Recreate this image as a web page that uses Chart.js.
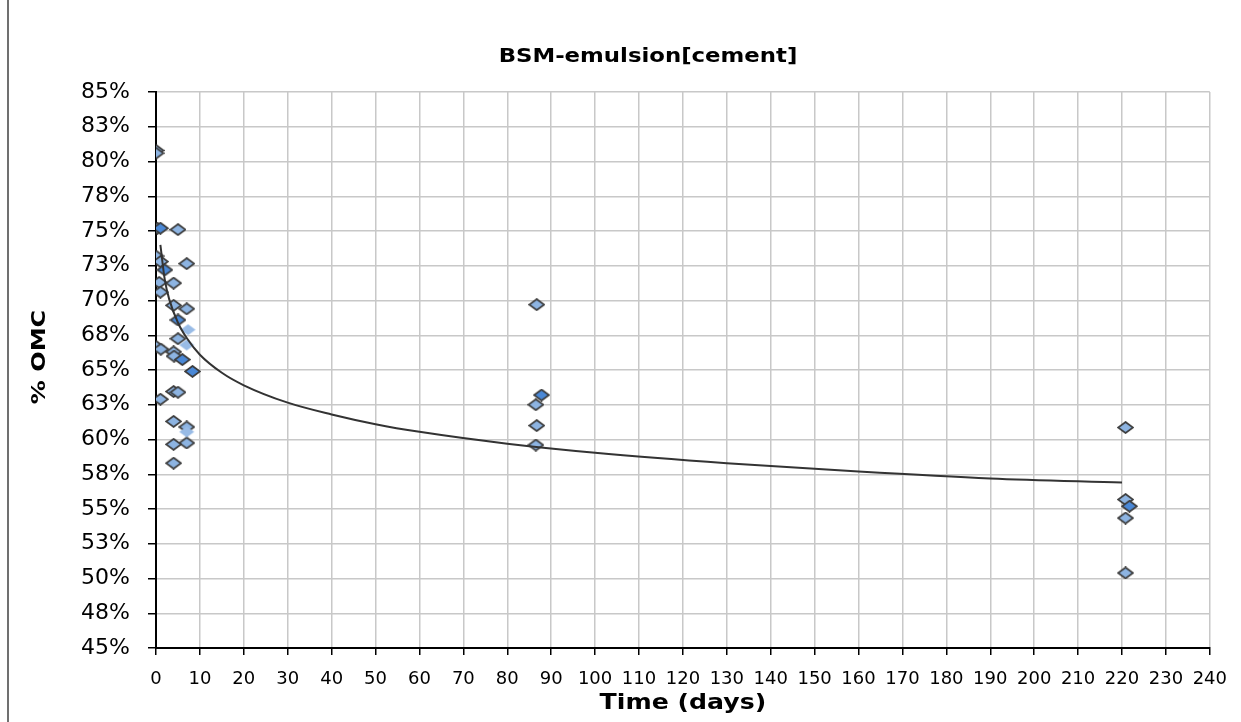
<!DOCTYPE html>
<html>
<head>
<meta charset="utf-8">
<title>BSM-emulsion[cement]</title>
<script src="https://cdn.jsdelivr.net/npm/chart.js@4.4.1/dist/chart.umd.min.js"></script>
<style>
  html, body { margin: 0; padding: 0; background: #fff; }
  #wrap { position: relative; width: 1241px; height: 722px; }
</style>
</head>
<body>
<div id="wrap"><canvas id="omcChart" width="1241" height="722"></canvas></div>
<script>
// moisture content (% of OMC) against curing time, three marker groups
var chartTitle = "BSM-emulsion[cement]";
var xTitle = "Time (days)";
var yTitle = "% OMC";

var mainDays = [0, 0, 0.3, 5, 0, 1, 7, 0.7, 4, 1, 4, 7, 5, 0, 1.1, 4, 4.1, 4, 5, 1, 4, 7, 7, 4, 4,
                86.7, 86.5, 86.7, 86.5, 220.8, 220.8, 220.8, 220.8];
var mainOMC = [80.8, 80.6, 75.2, 75.1, 73.2, 72.8, 72.65, 71.3, 71.25, 70.6, 69.65, 69.4, 67.25, 66.7, 66.5, 66.3, 66.0, 63.45, 63.4, 62.9, 61.3, 60.9, 59.75, 59.65, 58.3,
               69.7, 62.5, 61.0, 59.6, 60.86, 55.68, 54.35, 50.4];

var darkDays = [1, 2, 5, 6, 8.3, 87.8, 221.7];
var darkOMC = [75.2, 72.2, 68.6, 65.75, 64.9, 63.2, 55.2];

var paleDays = [7.3, 7, 7];
var paleOMC = [67.9, 66.8, 60.55];

// trend curve read along its length
var trendDays = [1, 2, 3, 5, 7, 10, 15, 20, 30, 40, 50, 60, 80, 100, 130, 160, 190, 220];
var trendOMC = [74.0, 71.5, 70.1, 68.4, 67.3, 66.1, 64.8, 63.9, 62.65, 61.8, 61.1, 60.55, 59.7, 59.05, 58.3, 57.7, 57.2, 56.9];

var yTickLabels = ["45%", "48%", "50%", "53%", "55%", "58%", "60%", "63%", "65%", "68%", "70%", "73%", "75%", "78%", "80%", "83%", "85%"];

function toPoints(xs, ys) {
    var pts = [];
    for (var i = 0; i < xs.length; i++) {
        pts.push({ x: xs[i], y: ys[i] });
    }
    return pts;
}

// Excel-like flattened diamond marker
function diamond(fill, stroke) {
    var cv = document.createElement("canvas");
    cv.width = 17;
    cv.height = 13;
    var g = cv.getContext("2d");
    g.beginPath();
    g.moveTo(8.5, 1);
    g.lineTo(16, 6.5);
    g.lineTo(8.5, 12);
    g.lineTo(1, 6.5);
    g.closePath();
    g.fillStyle = fill;
    g.fill();
    if (stroke) {
        g.lineWidth = 1.7;
        g.strokeStyle = stroke;
        g.stroke();
    }
    return cv;
}

function drawWide(c, text, x, y) {
    c.save();
    c.translate(x, y);
    c.scale(1.2, 1);
    c.fillText(text, 0, 0);
    c.restore();
}

var pagePlugin = {
    id: "pagePlugin",
    beforeDraw: function (chart) {
        var c = chart.ctx;
        c.save();
        c.fillStyle = "#fff";
        c.fillRect(0, 0, chart.width, chart.height);
        c.fillStyle = "#707070";
        c.fillRect(7, 0, 2, chart.height);
        c.restore();
    },
    afterDraw: function (chart) {
        var c = chart.ctx;
        var area = chart.chartArea;
        c.save();
        c.fillStyle = "#000";
        c.textAlign = "center";
        c.textBaseline = "middle";
        c.font = "bold 19px 'DejaVu Sans'";
        drawWide(c, chartTitle, 648, 57);
        c.font = "bold 21px 'DejaVu Sans'";
        drawWide(c, xTitle, (area.left + area.right) / 2, 704);
        c.font = "bold 20px 'DejaVu Sans'";
        c.translate(40, 357);
        c.rotate(-Math.PI / 2);
        drawWide(c, yTitle, 0, 0);
        c.restore();
    }
};

var ctx = document.getElementById("omcChart").getContext("2d");
var omcChart = new Chart(ctx, {
    type: "scatter",
    data: {
        datasets: [
            {
                type: "line",
                data: toPoints(trendDays, trendOMC),
                borderColor: "#333333",
                borderWidth: 2,
                pointRadius: 0,
                cubicInterpolationMode: "monotone",
                fill: false,
                order: 0
            },
            {
                data: toPoints(mainDays, mainOMC),
                pointStyle: diamond("#8DB4E2", "#3a3a3a"),
                order: 2
            },
            {
                data: toPoints(darkDays, darkOMC),
                pointStyle: diamond("#4A88D6", "#3a3a3a"),
                order: 1
            },
            {
                data: toPoints(paleDays, paleOMC),
                pointStyle: diamond("#98BBE6", null),
                order: 1
            }
        ]
    },
    options: {
        responsive: false,
        animation: false,
        devicePixelRatio: 1,
        layout: { padding: { top: 92, left: 0, right: 29, bottom: 0 } },
        plugins: {
            legend: { display: false },
            title: { display: false },
            tooltip: { enabled: false }
        },
        scales: {
            x: {
                type: "linear",
                min: 0,
                max: 240,
                ticks: {
                    stepSize: 10,
                    color: "#000",
                    padding: 14,
                    maxRotation: 0,
                    minRotation: 0,
                    autoSkip: false,
                    font: { family: "'DejaVu Sans'", size: 18 }
                },
                grid: {
                    color: "#c8c8c8",
                    lineWidth: 1.5,
                    tickColor: "#000",
                    tickLength: 7,
                    tickWidth: 1.5
                },
                border: { color: "#000", width: 2 },
                afterFit: function (s) { s.height = 74; }
            },
            y: {
                type: "linear",
                min: 45,
                max: 85,
                ticks: {
                    stepSize: 2.5,
                    color: "#000",
                    padding: 18,
                    font: { family: "'DejaVu Sans'", size: 22 },
                    callback: function (v, i) { return yTickLabels[i]; }
                },
                grid: {
                    color: "#c8c8c8",
                    lineWidth: 1.5,
                    tickColor: "#000",
                    tickLength: 8,
                    tickWidth: 1.5
                },
                border: { color: "#000", width: 2 },
                afterFit: function (s) { s.width = 156; }
            }
        }
    },
    plugins: [pagePlugin]
});
</script>
</body>
</html>
